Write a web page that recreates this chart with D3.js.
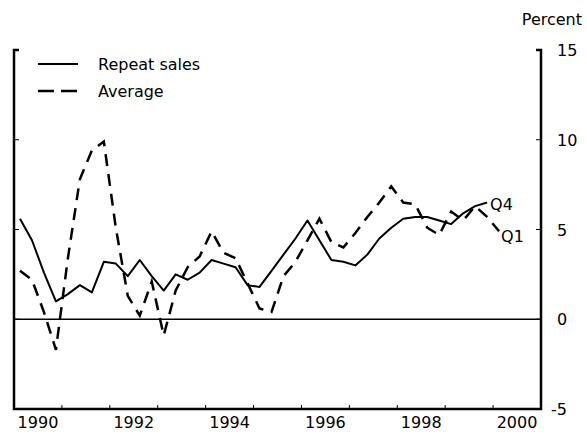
<!DOCTYPE html>
<html lang="en">
  <head>
    <meta charset="utf-8">
    <title>Repeat sales vs average</title>
    <script src="https://d3js.org/d3.v7.min.js"></script>
    <style>
      body { margin: 0; background: #fff; }
    </style>
  </head>
  <body>
    <script type="text/javascript">
      // quarterly values, percent
      const repeatSales = [
        5.6, 4.4, 2.6, 1.0,
        1.4, 1.9, 1.5, 3.2,
        3.1, 2.4, 3.3, 2.4,
        1.6, 2.5, 2.2, 2.6,
        3.3, 3.1, 2.9, 1.9,
        1.8, 2.7, 3.6, 4.5,
        5.5, 4.4, 3.3, 3.2,
        3.0, 3.6, 4.5, 5.1,
        5.6, 5.7, 5.7, 5.5,
        5.3, 5.9, 6.3, 6.5
      ];
      const average = [
        2.7, 2.2, 0.4, -1.7,
        3.4, 7.8, 9.4, 9.9,
        5.1, 1.3, 0.2, 2.1,
        -0.9, 1.6, 2.9, 3.5,
        4.9, 3.7, 3.4, 2.0,
        0.6, 0.4, 2.4, 3.2,
        4.4, 5.6, 4.3, 4.0,
        4.8, 5.7, 6.5, 7.4,
        6.5, 6.4, 5.1, 4.7,
        6.0, 5.5, 6.3, 5.7,
        4.9
      ];
      const startYear = 1990;
      const yearLabels = [1990, 1992, 1994, 1996, 1998, 2000];
      const yTicks = [-5, 0, 5, 10, 15];
      const seriesNames = ["Repeat sales", "Average"];
      const endLabels = ["Q4", "Q1"];

      const width = 587;
      const height = 435;
      const font = "DejaVu Sans, Liberation Sans, sans-serif";
      const fontSize = "16px";
      const dash = "12,8";

      const quarterTime = i => startYear + Math.floor(i / 4) + ((i % 4) + 0.5) / 4;

      var svg = d3.select("body")
        .append("svg")
        .attr("width", width)
        .attr("height", height);

      var xScale = d3.scaleLinear()
        .domain([1990, 2001])
        .range([14, 541]);

      var yScale = d3.scaleLinear()
        .domain([-5, 15])
        .range([409, 50]);

      // frame
      var frame = svg.append("g")
        .attr("fill", "none")
        .attr("stroke", "#000");

      frame.append("path")
        .attr("d", "M" + (xScale.range()[0] + 5) + "," + yScale(15) +
          "H" + xScale.range()[0] + "V" + yScale(-5) + "H" + xScale.range()[1] +
          "V" + yScale(15) + "H" + (xScale.range()[1] - 5))
        .attr("stroke-width", 2.5);

      // inward ticks on left and right
      frame.selectAll(".ytick")
        .data(yTicks.slice(1, -1))
        .enter()
        .append("path")
        .attr("class", "ytick")
        .attr("d", d => "M" + xScale.range()[0] + "," + yScale(d) + "h5" +
          "M" + xScale.range()[1] + "," + yScale(d) + "h-5")
        .attr("stroke-width", 1);

      // year ticks on bottom
      frame.selectAll(".xtick")
        .data(d3.range(1991, 2001))
        .enter()
        .append("path")
        .attr("class", "xtick")
        .attr("d", d => "M" + xScale(d) + "," + yScale(-5) + "v-4")
        .attr("stroke-width", 1);

      // zero line
      svg.append("line")
        .attr("x1", xScale.range()[0])
        .attr("x2", xScale.range()[1])
        .attr("y1", yScale(0))
        .attr("y2", yScale(0))
        .attr("stroke", "#000")
        .attr("stroke-width", 1.5);

      // right axis labels
      svg.append("g")
        .selectAll("text")
        .data(yTicks)
        .enter()
        .append("text")
        .attr("x", d => d < 0 ? 551 : 557)
        .attr("y", d => yScale(d) + 6)
        .text(d => d < 0 ? "-" + Math.abs(d) : d)
        .attr("font-family", font)
        .attr("font-size", fontSize)
        .attr("fill", "#000");

      svg.append("text")
        .attr("x", 582)
        .attr("y", 25)
        .style("text-anchor", "end")
        .text("Percent")
        .attr("font-family", font)
        .attr("font-size", fontSize);

      // year labels
      svg.append("g")
        .selectAll("text")
        .data(yearLabels)
        .enter()
        .append("text")
        .attr("x", d => xScale(d + 0.5))
        .attr("y", 428)
        .style("text-anchor", "middle")
        .text(d => d)
        .attr("font-family", font)
        .attr("font-size", fontSize);

      var line = d3.line()
        .x((d, i) => xScale(quarterTime(i)))
        .y(d => yScale(d));

      svg.append("path")
        .datum(average)
        .attr("d", line)
        .attr("fill", "none")
        .attr("stroke", "#000")
        .attr("stroke-width", 2.5)
        .attr("stroke-dasharray", dash);

      svg.append("path")
        .datum(repeatSales)
        .attr("d", line)
        .attr("fill", "none")
        .attr("stroke", "#000")
        .attr("stroke-width", 2)
        .attr("stroke-linejoin", "round");

      // end labels
      const lastRs = repeatSales.length - 1;
      const lastAv = average.length - 1;
      svg.append("text")
        .attr("x", xScale(quarterTime(lastRs)) + 3)
        .attr("y", yScale(repeatSales[lastRs]) + 7)
        .text(endLabels[0])
        .attr("font-family", font)
        .attr("font-size", fontSize);
      svg.append("text")
        .attr("x", xScale(quarterTime(lastAv)) + 2)
        .attr("y", yScale(average[lastAv]) + 11)
        .text(endLabels[1])
        .attr("font-family", font)
        .attr("font-size", fontSize);

      // legend
      var legend = svg.append("g")
        .attr("class", "legend");

      legend.selectAll("line")
        .data(seriesNames)
        .enter()
        .append("line")
        .attr("x1", 38)
        .attr("x2", 78)
        .attr("y1", (d, i) => 64 + i * 27)
        .attr("y2", (d, i) => 64 + i * 27)
        .attr("stroke", "#000")
        .attr("stroke-width", (d, i) => i ? 2.5 : 2)
        .attr("stroke-dasharray", (d, i) => i ? "16,7" : null);

      legend.selectAll("text")
        .data(seriesNames)
        .enter()
        .append("text")
        .attr("x", 98)
        .attr("y", (d, i) => 70 + i * 27)
        .text(d => d)
        .attr("font-family", font)
        .attr("font-size", fontSize);
    </script>
  </body>
</html>
